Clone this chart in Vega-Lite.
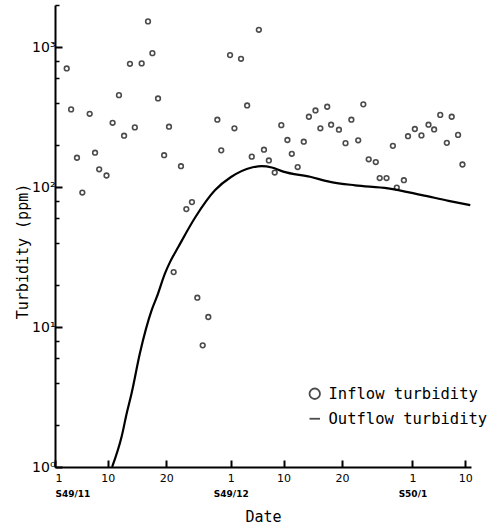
{
  "$schema": "https://vega.github.io/schema/vega-lite/v6.json",
  "width": 416,
  "height": 462,
  "autosize": {"type": "none"},
  "padding": {"left": 55, "top": 5, "right": 26, "bottom": 61},
  "config": {
    "view": {"stroke": null},
    "axis": {"grid": false, "domainColor": "black", "tickColor": "black", "labelColor": "black", "titleColor": "black"}
  },
  "datasets": {
    "inflow": [
      {"date": "1974-11-03T00:00Z", "turbidity": 704},
      {"date": "1974-11-03T18:00Z", "turbidity": 359},
      {"date": "1974-11-04T18:00Z", "turbidity": 162},
      {"date": "1974-11-05T16:00Z", "turbidity": 91.4},
      {"date": "1974-11-06T22:00Z", "turbidity": 334},
      {"date": "1974-11-07T20:00Z", "turbidity": 176},
      {"date": "1974-11-08T13:00Z", "turbidity": 134},
      {"date": "1974-11-09T19:00Z", "turbidity": 121},
      {"date": "1974-11-10T20:00Z", "turbidity": 288},
      {"date": "1974-11-11T22:00Z", "turbidity": 454},
      {"date": "1974-11-12T19:00Z", "turbidity": 233},
      {"date": "1974-11-13T19:00Z", "turbidity": 760},
      {"date": "1974-11-14T15:00Z", "turbidity": 267},
      {"date": "1974-11-15T19:00Z", "turbidity": 765},
      {"date": "1974-11-16T21:00Z", "turbidity": 1527},
      {"date": "1974-11-17T15:00Z", "turbidity": 906},
      {"date": "1974-11-18T14:00Z", "turbidity": 430},
      {"date": "1974-11-19T15:00Z", "turbidity": 169},
      {"date": "1974-11-20T11:00Z", "turbidity": 270},
      {"date": "1974-11-21T06:00Z", "turbidity": 24.7},
      {"date": "1974-11-22T12:00Z", "turbidity": 141},
      {"date": "1974-11-23T10:00Z", "turbidity": 69.6},
      {"date": "1974-11-24T09:00Z", "turbidity": 78.1},
      {"date": "1974-11-25T07:00Z", "turbidity": 16.2},
      {"date": "1974-11-26T05:00Z", "turbidity": 7.4},
      {"date": "1974-11-27T04:00Z", "turbidity": 11.8},
      {"date": "1974-11-28T17:00Z", "turbidity": 303},
      {"date": "1974-11-29T09:00Z", "turbidity": 183},
      {"date": "1974-11-30T21:00Z", "turbidity": 877},
      {"date": "1974-12-01T15:00Z", "turbidity": 263},
      {"date": "1974-12-02T18:00Z", "turbidity": 825},
      {"date": "1974-12-03T19:00Z", "turbidity": 383},
      {"date": "1974-12-04T14:00Z", "turbidity": 165},
      {"date": "1974-12-05T19:00Z", "turbidity": 1330},
      {"date": "1974-12-06T16:00Z", "turbidity": 185},
      {"date": "1974-12-07T12:00Z", "turbidity": 155},
      {"date": "1974-12-08T12:00Z", "turbidity": 127},
      {"date": "1974-12-09T15:00Z", "turbidity": 277},
      {"date": "1974-12-10T16:00Z", "turbidity": 217},
      {"date": "1974-12-11T10:00Z", "turbidity": 173},
      {"date": "1974-12-12T10:00Z", "turbidity": 139},
      {"date": "1974-12-13T11:00Z", "turbidity": 211},
      {"date": "1974-12-14T08:00Z", "turbidity": 318},
      {"date": "1974-12-15T11:00Z", "turbidity": 353},
      {"date": "1974-12-16T07:00Z", "turbidity": 263},
      {"date": "1974-12-17T11:00Z", "turbidity": 375},
      {"date": "1974-12-18T03:00Z", "turbidity": 279},
      {"date": "1974-12-19T11:00Z", "turbidity": 257},
      {"date": "1974-12-20T14:00Z", "turbidity": 206},
      {"date": "1974-12-21T14:00Z", "turbidity": 303},
      {"date": "1974-12-22T18:00Z", "turbidity": 216},
      {"date": "1974-12-23T15:00Z", "turbidity": 390},
      {"date": "1974-12-24T13:00Z", "turbidity": 158},
      {"date": "1974-12-25T18:00Z", "turbidity": 151},
      {"date": "1974-12-26T10:00Z", "turbidity": 116},
      {"date": "1974-12-27T14:00Z", "turbidity": 116},
      {"date": "1974-12-28T16:00Z", "turbidity": 197},
      {"date": "1974-12-29T08:00Z", "turbidity": 99.2},
      {"date": "1974-12-30T13:00Z", "turbidity": 112},
      {"date": "1974-12-31T06:00Z", "turbidity": 231},
      {"date": "1975-01-01T10:00Z", "turbidity": 260},
      {"date": "1975-01-02T13:00Z", "turbidity": 234},
      {"date": "1975-01-03T18:00Z", "turbidity": 279},
      {"date": "1975-01-04T17:00Z", "turbidity": 258},
      {"date": "1975-01-05T18:00Z", "turbidity": 328},
      {"date": "1975-01-06T21:00Z", "turbidity": 207},
      {"date": "1975-01-07T17:00Z", "turbidity": 318},
      {"date": "1975-01-08T19:00Z", "turbidity": 236},
      {"date": "1975-01-09T13:00Z", "turbidity": 145}
    ],
    "outflow": [
      {"date": "1974-11-10T18:00Z", "turbidity": 1.0},
      {"date": "1974-11-12T09:00Z", "turbidity": 1.65},
      {"date": "1974-11-13T06:00Z", "turbidity": 2.43},
      {"date": "1974-11-14T02:00Z", "turbidity": 3.38},
      {"date": "1974-11-15T12:00Z", "turbidity": 6.52},
      {"date": "1974-11-17T12:00Z", "turbidity": 13.2},
      {"date": "1974-11-18T09:00Z", "turbidity": 16.4},
      {"date": "1974-11-19T19:00Z", "turbidity": 24.3},
      {"date": "1974-11-20T15:00Z", "turbidity": 29.1},
      {"date": "1974-11-22T01:00Z", "turbidity": 37.3},
      {"date": "1974-11-24T22:00Z", "turbidity": 60.6},
      {"date": "1974-11-28T08:00Z", "turbidity": 95.2},
      {"date": "1974-12-01T01:00Z", "turbidity": 118},
      {"date": "1974-12-04T14:00Z", "turbidity": 138},
      {"date": "1974-12-06T07:00Z", "turbidity": 141},
      {"date": "1974-12-08T00:00Z", "turbidity": 138},
      {"date": "1974-12-09T23:00Z", "turbidity": 129},
      {"date": "1974-12-14T13:00Z", "turbidity": 118.5},
      {"date": "1974-12-17T23:00Z", "turbidity": 109},
      {"date": "1974-12-22T05:00Z", "turbidity": 103},
      {"date": "1974-12-27T20:00Z", "turbidity": 98},
      {"date": "1975-01-02T15:00Z", "turbidity": 87.7},
      {"date": "1975-01-07T04:00Z", "turbidity": 79.8},
      {"date": "1975-01-10T21:00Z", "turbidity": 74.4}
    ]
  },
  "layer": [
    {
      "data": {"name": "inflow"},
      "mark": {"type": "point", "filled": false, "color": "black", "strokeWidth": 1.6, "size": 22},
      "encoding": {
        "x": {
          "field": "date", "type": "temporal",
          "scale": {"type": "utc", "nice": false, "domain": [{"year": 1974, "month": 11, "date": 1, "utc": true}, {"year": 1975, "month": 1, "date": 11, "utc": true}]},
          "axis": {
            "orient": "bottom",
            "values": [
              {"year": 1974, "month": 11, "date": 1, "utc": true},
              {"year": 1974, "month": 11, "date": 10, "utc": true},
              {"year": 1974, "month": 11, "date": 20, "utc": true},
              {"year": 1974, "month": 12, "date": 1, "utc": true},
              {"year": 1974, "month": 12, "date": 10, "utc": true},
              {"year": 1974, "month": 12, "date": 20, "utc": true},
              {"year": 1975, "month": 1, "date": 1, "utc": true},
              {"year": 1975, "month": 1, "date": 10, "utc": true}
            ],
            "labelExpr": "'' + utcdate(datum.value)",
            "ticks": false, "domainWidth": 2,
            "labelPadding": 5, "labelFont": "DejaVu Sans", "labelFontSize": 11, "labelBaseline": "top",
            "title": "Date", "titleFont": "DejaVu Sans Mono", "titleFontSize": 15, "titleFontWeight": "normal", "titlePadding": 26
          }
        },
        "y": {
          "field": "turbidity", "type": "quantitative",
          "scale": {"type": "log", "domain": [1, 2000], "nice": false},
          "axis": {
            "orient": "left",
            "values": [1, 10, 100, 1000],
            "labelExpr": "datum.value == 1 ? '10⁰' : datum.value == 10 ? '10¹' : datum.value == 100 ? '10²' : '10³'",
            "ticks": false, "domainWidth": 2,
            "labelPadding": 0, "labelFont": "DejaVu Sans", "labelFontSize": 14, "labelBaseline": "middle",
            "title": "Turbidity (ppm)", "titleFont": "DejaVu Sans Mono", "titleFontSize": 15, "titleFontWeight": "normal",
            "titlePadding": 1, "titleY": 246
          }
        },
        "shape": {
          "datum": "Inflow turbidity", "type": "nominal",
          "scale": {"domain": ["Inflow turbidity", "Outflow turbidity"], "range": ["circle", "stroke"]},
          "legend": {
            "title": null, "orient": "none", "legendX": 252, "legendY": 381,
            "labelFont": "DejaVu Sans Mono", "labelFontSize": 15.5, "labelOffset": 6, "labelColor": "black",
            "symbolSize": 110, "symbolStrokeColor": "black", "symbolStrokeWidth": 1.8, "rowPadding": 8
          }
        }
      }
    },
    {
      "data": {"name": "outflow"},
      "mark": {"type": "line", "color": "black", "strokeWidth": 2.2, "interpolate": "monotone"},
      "encoding": {
        "x": {
          "field": "date", "type": "temporal",
          "axis": {
            "orient": "bottom",
            "offset": -7,
            "values": [
              {"year": 1974, "month": 11, "date": 1, "utc": true},
              {"year": 1974, "month": 11, "date": 10, "utc": true},
              {"year": 1974, "month": 11, "date": 20, "utc": true},
              {"year": 1974, "month": 12, "date": 1, "utc": true},
              {"year": 1974, "month": 12, "date": 10, "utc": true},
              {"year": 1974, "month": 12, "date": 20, "utc": true},
              {"year": 1975, "month": 1, "date": 1, "utc": true},
              {"year": 1975, "month": 1, "date": 10, "utc": true}
            ],
            "labelExpr": "utcdate(datum.value) == 1 ? (utcmonth(datum.value) == 10 ? 'S49/11' : utcmonth(datum.value) == 11 ? 'S49/12' : 'S50/1') : ''",
            "ticks": true, "tickSize": 7, "tickWidth": 2, "tickColor": "black", "domain": false, "labelPadding": 22,
            "labelFont": "DejaVu Sans", "labelFontSize": 9, "labelFontWeight": "bold",
            "labelBaseline": "top",
            "title": null
          }
        },
        "y": {
          "field": "turbidity", "type": "quantitative",
          "axis": {
            "orient": "left",
            "offset": -7,
            "values": [1, 10, 100, 1000],
            "labels": false, "domain": false, "ticks": true, "tickSize": 7, "tickWidth": 2, "tickColor": "black",
            "title": null
          }
        }
      }
    },
    {
      "data": {"name": "outflow"},
      "mark": {"type": "point", "opacity": 0},
      "encoding": {
        "x": {"field": "date", "type": "temporal", "axis": null},
        "y": {
          "field": "turbidity", "type": "quantitative",
          "axis": {
            "orient": "left",
            "offset": -4,
            "values": [2, 4, 6, 8, 20, 40, 60, 80, 200, 400, 600, 800, 2000],
            "labels": false, "domain": false, "ticks": true, "tickSize": 4, "tickWidth": 1.5, "tickColor": "black",
            "title": null
          }
        }
      }
    }
  ],
  "resolve": {"axis": {"x": "independent", "y": "independent"}}
}
